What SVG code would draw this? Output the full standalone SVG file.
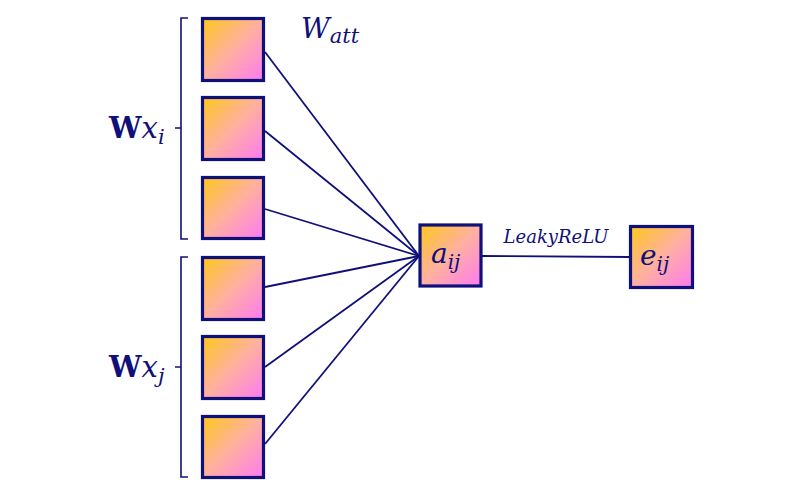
<svg xmlns="http://www.w3.org/2000/svg" width="800" height="480" viewBox="0 0 800 480">
<defs>
<linearGradient id="g" x1="0" y1="0" x2="1" y2="1">
<stop offset="0" stop-color="#ffc81c"/>
<stop offset="0.5" stop-color="#ffb0a0"/>
<stop offset="1" stop-color="#ff7af2"/>
</linearGradient>
<style>
.box{fill:url(#g);stroke:#10107a;stroke-width:3.2}
.ln{stroke:#10107a;stroke-width:1.8;fill:none}
.br{stroke:#10107a;stroke-width:1.6;fill:none}
.t{fill:#10107a;font-family:"DejaVu Serif","Liberation Serif",serif;font-style:italic}
.b{fill:#10107a;font-family:"DejaVu Serif","Liberation Serif",serif;font-weight:bold;font-style:normal}
</style>
</defs>
<rect width="800" height="480" fill="#fff"/>
<g id="connectors">
<line class="ln" x1="265" y1="52" x2="419" y2="256"/>
<line class="ln" x1="265" y1="131" x2="419" y2="256"/>
<line class="ln" x1="265" y1="209" x2="419" y2="256"/>
<line class="ln" x1="265" y1="287" x2="419" y2="256"/>
<line class="ln" x1="265" y1="367" x2="419" y2="256"/>
<line class="ln" x1="265" y1="444" x2="419" y2="256"/>
<line class="ln" x1="482" y1="256" x2="629" y2="257"/>
</g>
<g id="brace-i">
<path class="br" d="M188,18 H181 V239 H188 M181,128 H175"/>
</g>
<g id="brace-j">
<path class="br" d="M188,257 H181 V477 H188 M181,367 H175"/>
</g>
<g id="n1"><rect class="box" x="202.5" y="18.5" width="61" height="62"/></g>
<g id="n2"><rect class="box" x="202.5" y="97.5" width="61" height="62"/></g>
<g id="n3"><rect class="box" x="202.5" y="177.5" width="61" height="61"/></g>
<g id="n4"><rect class="box" x="202.5" y="257.5" width="61" height="62"/></g>
<g id="n5"><rect class="box" x="202.5" y="336.5" width="61" height="62"/></g>
<g id="n6"><rect class="box" x="202.5" y="416.5" width="61" height="61"/></g>
<g id="a">
<rect class="box" x="420" y="225" width="61" height="61"/>
<text class="t" x="431" y="263" font-size="28">a<tspan font-size="20" dy="6">ij</tspan></text>
</g>
<g id="e">
<rect class="box" x="630.5" y="226.5" width="62" height="61"/>
<text class="t" x="640" y="265" font-size="28">e<tspan font-size="20" dy="6">ij</tspan></text>
</g>
<text class="t" x="556" y="243" font-size="18" text-anchor="middle">LeakyReLU</text>
<text class="t" x="301" y="38" font-size="28">W<tspan font-size="21" dy="5">att</tspan></text>
<text class="t" x="109" y="138" font-size="29"><tspan class="b">W</tspan>x<tspan font-size="21" dy="6">i</tspan></text>
<text class="t" x="109" y="377" font-size="29"><tspan class="b">W</tspan>x<tspan font-size="21" dy="6">j</tspan></text>
</svg>
